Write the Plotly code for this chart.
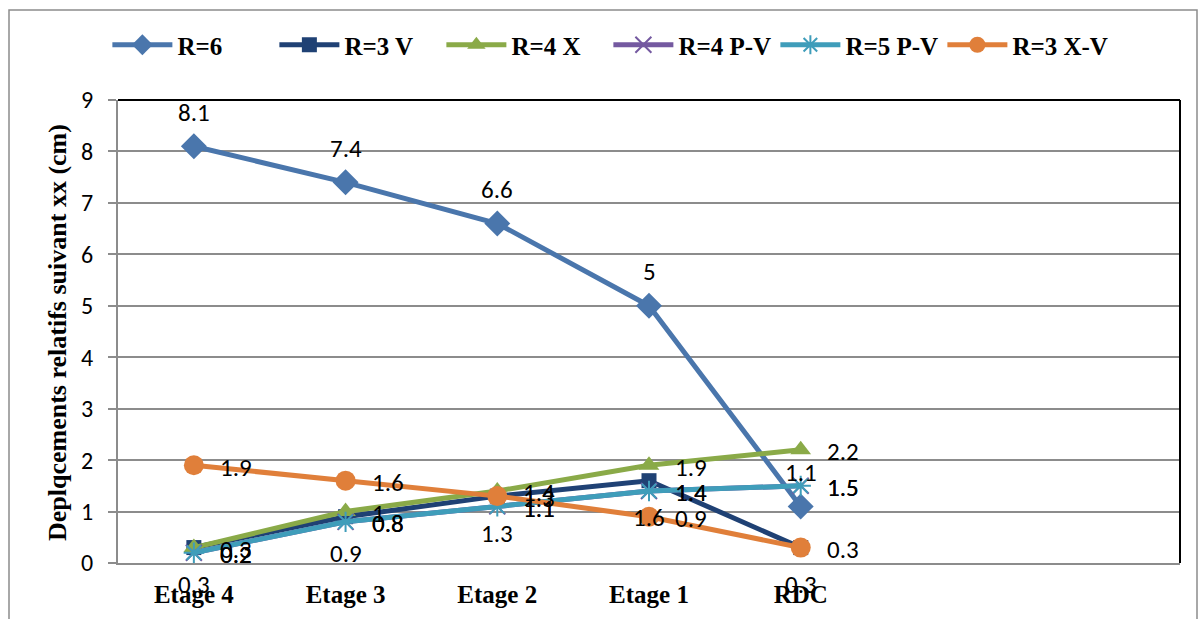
import plotly.graph_objects as go

# Storeys along the horizontal axis
categories = ["Etage 4", "Etage 3", "Etage 2", "Etage 1", "RDC"]

# Relative displacements along xx (cm) for each configuration
r6 = [8.1, 7.4, 6.6, 5.0, 1.1]
r3_v = [0.3, 0.9, 1.3, 1.6, 0.3]
r4_x = [0.3, 1.0, 1.4, 1.9, 2.2]
r4_pv = [0.2, 0.8, 1.1, 1.4, 1.5]
r5_pv = [0.2, 0.8, 1.1, 1.4, 1.5]
r3_xv = [1.9, 1.6, 1.3, 0.9, 0.3]

series_names = ["R=6", "R=3 V", "R=4 X", "R=4 P-V", "R=5 P-V", "R=3 X-V"]
y_ticks = list(range(0, 10))

W, H = 1198, 619
L, R, T, B = 118, 18, 100, 56
PW, PH = W - L - R, H - T - B

SERIF = "Liberation Serif, Times New Roman, serif"
SANS = "Carlito, Lato, Open Sans, sans-serif"

styles = [
    # name, values, colour, symbol, marker size, label placement
    (series_names[0], r6, "#4A76AC", "diamond", 20, "above"),
    (series_names[1], r3_v, "#1F4174", "square", 15, "below"),
    (series_names[2], r4_x, "#8AAA48", "triangle-up", 18, "right"),
    (series_names[3], r4_pv, "#7459A0", "x-thin-open", 16, "right"),
    (series_names[4], r5_pv, "#3F9DBA", "asterisk-open", 17, "right"),
    (series_names[5], r3_xv, "#E07F3A", "circle", 20, "right"),
]

xs = list(range(len(categories)))
fig = go.Figure()
annotations = []

for name, vals, col, sym, msize, place in styles:
    open_sym = sym.endswith("open")
    fig.add_trace(go.Scatter(
        x=xs, y=vals, name=name, mode="lines+markers",
        line=dict(color=col, width=5),
        marker=dict(symbol=sym, size=msize, color=col,
                    line=dict(color=col, width=2 if open_sym else 0)),
        cliponaxis=False,
    ))
    for xi, v in zip(xs, vals):
        a = dict(x=xi, y=v, xref="x", yref="y", text=f"{v:g}", showarrow=False,
                 font=dict(family=SANS, size=25, color="#000000"))
        if place == "above":
            a.update(yshift=34, xanchor="center", yanchor="middle")
        elif place == "below":
            a.update(yshift=-37, xanchor="center", yanchor="middle")
        else:
            a.update(xshift=24, yshift=-2, xanchor="left", yanchor="middle")
        annotations.append(a)

# Axis title drawn as rotated text left of the tick labels
annotations.append(dict(
    x=(57 - L) / PW, y=(H - B - 333) / PH, xref="paper", yref="paper",
    text="Deplqcements relatifs suivant xx (cm)", textangle=-90,
    showarrow=False, xanchor="center", yanchor="middle",
    font=dict(family=SERIF, size=26, color="#000000", weight="bold"),
))

shapes = [
    # chart frame
    dict(type="rect", xref="paper", yref="paper",
         x0=(9 - L) / PW, x1=(1197 - L) / PW,
         y0=(H - B - 640) / PH, y1=(H - B - 10) / PH,
         line=dict(color="#8C8C8C", width=1.5), fillcolor="rgba(0,0,0,0)", layer="below"),
    # plot area top and right edges
    dict(type="line", xref="paper", yref="paper", x0=0, x1=1, y0=1, y1=1,
         line=dict(color="#000000", width=2)),
    dict(type="line", xref="paper", yref="paper", x0=1, x1=1, y0=0, y1=1,
         line=dict(color="#000000", width=2)),
]

fig.update_layout(
    width=W, height=H,
    margin=dict(l=L, r=R, t=T, b=B, autoexpand=False),
    paper_bgcolor="#FFFFFF", plot_bgcolor="#FFFFFF",
    showlegend=True,
    legend=dict(orientation="h", x=-0.01, xanchor="left",
                y=(H - B - 45) / PH, yanchor="middle",
                font=dict(family=SERIF, size=25, color="#000000", weight="bold"),
                entrywidth=92, itemwidth=60, tracegroupgap=0,
                bgcolor="rgba(0,0,0,0)"),
    annotations=annotations,
    shapes=shapes,
)

fig.update_xaxes(
    range=[-0.5, 6.5], tickvals=xs, ticktext=categories,
    tickfont=dict(family=SERIF, size=25, color="#000000", weight="bold"),
    showgrid=False, zeroline=False, showline=True, linecolor="#8C8C8C", linewidth=2,
    ticks="", ticklabelstandoff=8,
)
fig.update_yaxes(
    range=[0, 9], tickvals=y_ticks,
    tickfont=dict(family=SANS, size=24, color="#000000"),
    showgrid=True, gridcolor="#8C8C8C", gridwidth=1.5, zeroline=False,
    showline=True, linecolor="#8C8C8C", linewidth=2,
    ticks="outside", ticklen=8, tickcolor="#8C8C8C", tickwidth=1.5,
    ticklabelstandoff=10,
)

fig.write_html("out.html")
